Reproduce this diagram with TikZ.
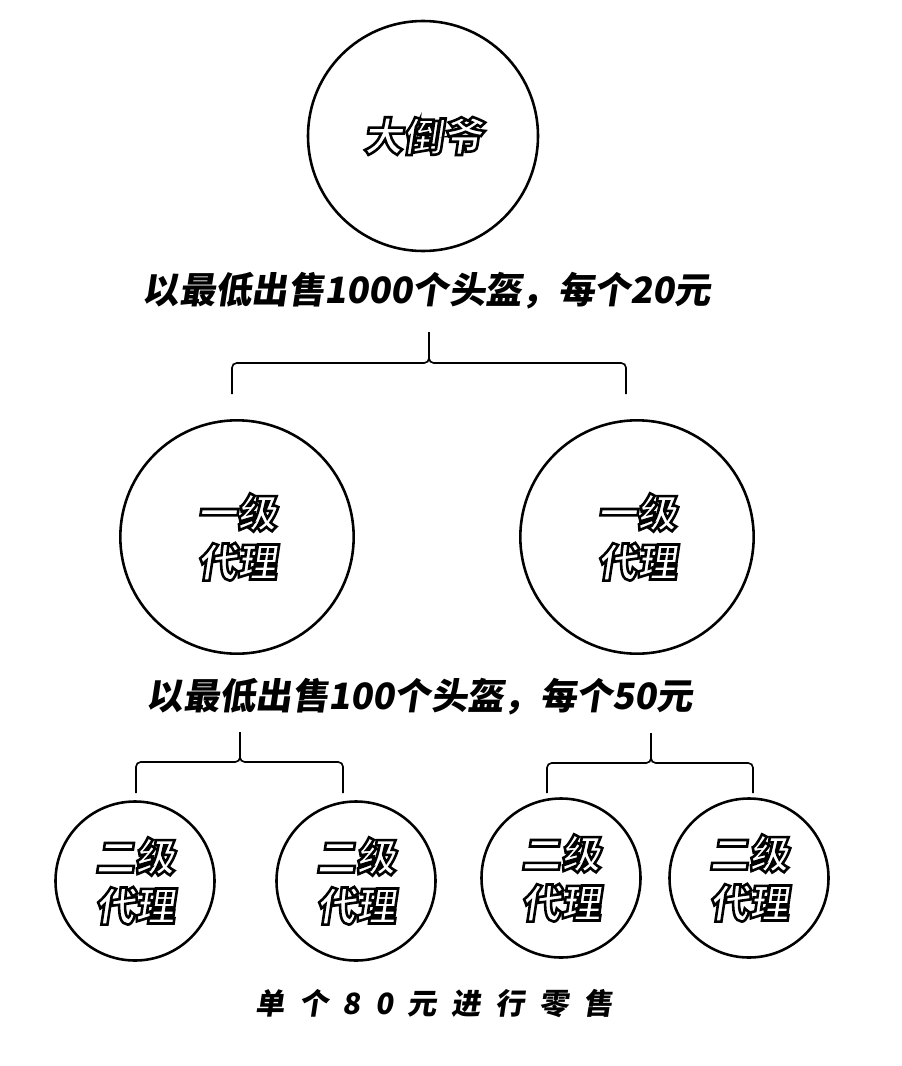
\documentclass[tikz,border=0pt]{standalone}
\usepackage{fontspec}
\usetikzlibrary{calc}
\usetikzlibrary{positioning}
\newfontfamily\cjk[FakeSlant=0.15]{Noto Sans CJK SC}
\newfontfamily\cjkheavy[FakeSlant=0.15]{Noto Sans CJK SC Black}
\newfontfamily\cjkwide[FakeSlant=0.15,LetterSpace=50]{Noto Sans CJK SC}
% white letters with a black outline
\newcommand{\outl}[1]{\special{pdf:literal direct 2 Tr 2.2 w 0 G}#1\special{pdf:literal direct 0 Tr}}
\tikzset{
 agent/.style = {circle, draw=black, line width=2.2pt, text=white, inner sep=0pt,
   align=center, font=\cjkheavy\fontsize{34}{42}\selectfont},
 boss/.style = {agent, minimum size=6.9cm},
 agentone/.style = {agent, minimum size=7cm},
 agenttwo/.style = {agent, minimum size=4.77cm},
 price/.style = {font=\cjk\bfseries\fontsize{31}{36}\selectfont},
 bracket/.style = {-, line width=1.4pt, rounded corners=4pt},
}

\begin{document}
\begin{tikzpicture}[x=0.03cm, y=-0.03cm]
 \useasboundingbox (0,0) rectangle (902,1066);
 % top
 \node [boss] (B) at (423,136) {\outl{大倒爷}};
 \node [price] (P1) at (427,291) {以最低出售1000个头盔，每个20元};
 % first level
 \node [agentone] (A1) at (237,537) {\outl{一级}\\\outl{代理}};
 \node [agentone] (A2) at (637,537) {\outl{一级}\\\outl{代理}};
 \node [price] (P2) at (420,697) {以最低出售100个头盔，每个50元};
 % second level
 \node [agenttwo] (C1) at (135,881) {\outl{二级}\\\outl{代理}};
 \node [agenttwo] (C2) at (356,881) {\outl{二级}\\\outl{代理}};
 \node [agenttwo] (C3) at (561,878) {\outl{二级}\\\outl{代理}};
 \node [agenttwo] (C4) at (749,878) {\outl{二级}\\\outl{代理}};
 \node [font=\cjkwide\bfseries\fontsize{25}{30}\selectfont] (R) at (434,1004) {单个80元进行零售};
 % braces
 \coordinate (k1) at (429,332);
 \coordinate (k1l) at (232,394);
 \coordinate (k1r) at (626,394);
 \draw [bracket] (k1l) |- ($(k1)+(0,31)$) -- (k1);
 \draw [bracket] (k1r) |- ($(k1)+(0,31)$) -- (k1);
 \coordinate (k2) at (240,732);
 \coordinate (k2l) at (136,793);
 \coordinate (k2r) at (343,793);
 \draw [bracket] (k2l) |- ($(k2)+(0,30)$) -- (k2);
 \draw [bracket] (k2r) |- ($(k2)+(0,30)$) -- (k2);
 \coordinate (k3) at (651,733);
 \coordinate (k3l) at (547,793);
 \coordinate (k3r) at (753,793);
 \draw [bracket] (k3l) |- ($(k3)+(0,30)$) -- (k3);
 \draw [bracket] (k3r) |- ($(k3)+(0,30)$) -- (k3);
\end{tikzpicture}
\end{document}
